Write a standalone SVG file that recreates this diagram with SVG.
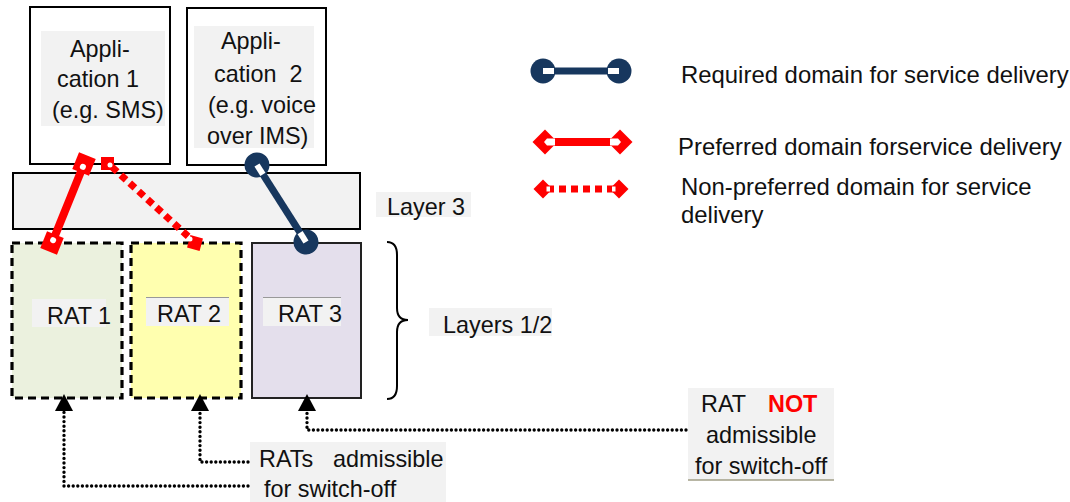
<svg xmlns="http://www.w3.org/2000/svg" width="1070" height="502" viewBox="0 0 1070 502">
<style>
text{font-family:"Liberation Sans",Arial,sans-serif;font-size:23.4px;fill:#111}
.lg{font-size:23.9px}
.box{fill:#fff;stroke:#000;stroke-width:2}
.tbg{fill:#f2f2f2}
.dash{stroke:#000;stroke-width:3.2;stroke-dasharray:8 5}
.req{fill:none;stroke:#17375e;stroke-width:7}
.pref{fill:none;stroke:#ff0000;stroke-width:8}
.npref{fill:none;stroke:#ff0000;stroke-width:7;stroke-dasharray:7 5}
.dot{fill:none;stroke:#000;stroke-width:3.4;stroke-linecap:round;stroke-dasharray:0 4.6}
</style>
<defs>
<marker id="mReq" markerUnits="userSpaceOnUse" viewBox="-13 -13 26 26" refX="0" refY="0" markerWidth="26" markerHeight="26" orient="auto-start-reverse">
<circle r="12.5" fill="#17375e"/><rect x="-11" y="-3" width="11" height="6" fill="#fff"/>
</marker>
<marker id="mPref" markerUnits="userSpaceOnUse" viewBox="-13 -13 26 26" refX="0" refY="0" markerWidth="26" markerHeight="26" orient="auto-start-reverse">
<rect x="-9" y="-9" width="18" height="18" fill="#ff0000"/><circle cx="-3" cy="0" r="3" fill="#fff"/>
</marker>
<marker id="mPrefL" markerUnits="userSpaceOnUse" viewBox="-14 -14 28 28" refX="0" refY="0" markerWidth="28" markerHeight="28" orient="auto-start-reverse">
<path d="M-12.5,0 L0,-12.5 L12.5,0 L0,12.5 Z" fill="#ff0000"/><path d="M-10,-3.5 L-2,-3.5 L1,0 L-2,3.5 L-10,3.5 Z" fill="#fff"/>
</marker>
<marker id="mNprefL" markerUnits="userSpaceOnUse" viewBox="-11 -11 22 22" refX="0" refY="0" markerWidth="22" markerHeight="22" orient="auto-start-reverse">
<path d="M-9.5,0 L0,-9.5 L9.5,0 L0,9.5 Z" fill="#ff0000"/><rect x="-7" y="-2.5" width="3.5" height="5" fill="#fff"/>
</marker>
<marker id="arr" markerUnits="userSpaceOnUse" viewBox="0 -10 18 20" refX="0" refY="0" markerWidth="18" markerHeight="20" orient="auto">
<path d="M0,-9 L17,0 L0,9 Z" fill="#000"/>
</marker>
</defs>

<g id="app1">
<rect class="box" x="30" y="7" width="140" height="157"/>
<rect class="tbg" x="41" y="31" width="124" height="95"/>
<text x="70" y="57">Appli-</text>
<text x="57" y="87">cation 1</text>
<text x="52" y="118">(e.g. SMS)</text>
</g>
<g id="app2">
<rect class="box" x="187" y="8" width="139" height="157"/>
<rect class="tbg" x="194" y="26" width="120" height="122"/>
<text x="221" y="49">Appli-</text>
<text x="214" y="82" xml:space="preserve">cation  2</text>
<text x="208" y="113">(e.g. voice</text>
<text x="207" y="144">over IMS)</text>
</g>
<g id="layer3">
<rect x="13" y="173" width="347" height="56" fill="#f2f2f2" stroke="#000" stroke-width="2"/>
</g>
<g id="layer3-label">
<rect class="tbg" x="376" y="192" width="95" height="25"/>
<text x="387" y="215">Layer 3</text>
</g>
<g id="rat1">
<rect class="dash" x="12" y="243" width="110" height="155" fill="#ebf1de"/>
<rect class="tbg" x="32" y="299" width="74" height="28"/>
<text x="47" y="324">RAT 1</text>
</g>
<g id="rat2">
<rect class="dash" x="131" y="243" width="110" height="155" fill="#ffffaf"/>
<rect class="tbg" x="146" y="297" width="83" height="29"/>
<line x1="146" y1="297.5" x2="229" y2="297.5" stroke="#999" stroke-width="1"/>
<text x="157" y="322">RAT 2</text>
</g>
<g id="rat3">
<rect x="252" y="243" width="109" height="155" fill="#e4dfec" stroke="#222" stroke-width="2"/>
<rect class="tbg" x="263" y="297" width="78" height="29"/>
<line x1="263" y1="297.5" x2="341" y2="297.5" stroke="#999" stroke-width="1"/>
<text x="278" y="322">RAT 3</text>
</g>
<g id="brace">
<path d="M387,242 Q397,242 397,255 V308 Q397,320 408,320 Q397,320 397,332 V386 Q397,399 387,399" fill="none" stroke="#000" stroke-width="2"/>
</g>
<g id="layers12-label">
<rect class="tbg" x="429" y="308" width="123" height="28"/>
<text x="443" y="333">Layers 1/2</text>
</g>
<g id="admissible-label">
<rect class="tbg" x="250" y="442" width="196" height="60"/>
<text x="259" y="467">RATs<tspan x="333">admissible</tspan></text>
<text x="264" y="497">for switch-off</text>
</g>
<g id="not-admissible-label">
<rect class="tbg" x="688" y="388" width="146" height="92"/>
<line x1="688" y1="480" x2="834" y2="480" stroke="#a09e86" stroke-width="1.5"/>
<text x="701" y="412">RAT</text>
<text x="768" y="412" style="font-weight:bold;fill:#ff0000">NOT</text>
<text x="706" y="443">admissible</text>
<text x="695" y="474">for switch-off</text>
</g>
<g id="legend">
<path class="req" d="M543,71 H619" marker-start="url(#mReq)" marker-end="url(#mReq)"/>
<path class="pref" d="M545,142 H620" stroke-width="9" marker-start="url(#mPrefL)" marker-end="url(#mPrefL)"/>
<path class="npref" d="M543,189 H619" stroke-width="6" stroke-dasharray="6 6" stroke-dashoffset="-4" marker-start="url(#mNprefL)" marker-end="url(#mNprefL)"/>
<text class="lg" x="681" y="83">Required domain for service delivery</text>
<text class="lg" x="678" y="155">Preferred domain forservice delivery</text>
<text class="lg" x="681" y="195">Non-preferred domain for service</text>
<text class="lg" x="681" y="223">delivery</text>
</g>
<g id="connectors">
<path class="pref" d="M84,164 L52,243" stroke-width="7" marker-start="url(#mPref)" marker-end="url(#mPref)"/>
<path class="npref" d="M112,167 L191,239"/>
<rect x="101" y="157" width="13" height="13" fill="#ff0000"/>
<circle cx="110" cy="165" r="2.5" fill="#fff"/>
<rect x="188.5" y="236.5" width="13" height="13" fill="#ff0000" transform="rotate(15 195 243)"/>
<circle cx="190" cy="239" r="2.5" fill="#fff"/>
<path class="req" d="M257,165 L306,242" marker-start="url(#mReq)" marker-end="url(#mReq)"/>
<path class="dot" d="M248,486 H64 V411" marker-end="url(#arr)"/>
<path class="dot" d="M248,462 H200 V411" marker-end="url(#arr)"/>
<path class="dot" d="M686,430 H307 V411" marker-end="url(#arr)"/>
</g>
</svg>
